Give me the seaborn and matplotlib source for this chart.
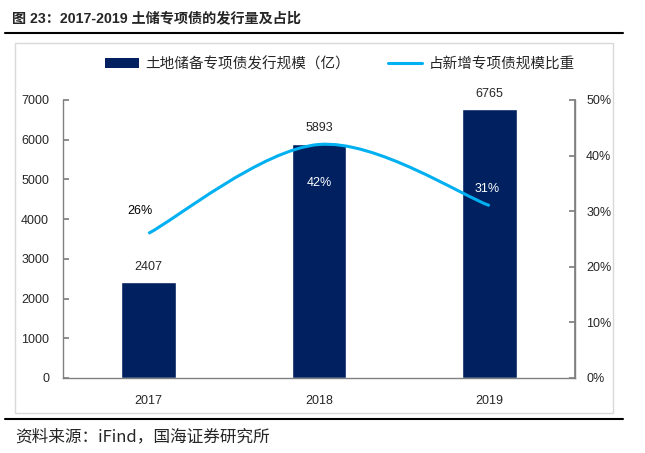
import matplotlib
matplotlib.use("Agg")
import matplotlib.pyplot as plt
import seaborn as sns
import pandas as pd
from matplotlib.path import Path
from matplotlib.patches import PathPatch, Rectangle, Patch
from matplotlib.lines import Line2D

# data
years = ["2017", "2018", "2019"]
issuance = [2407, 5893, 6765]        # 土地储备专项债发行规模（亿）
share = [26, 42, 31]                 # 占新增专项债规模比重 (%)

BAR_COLOR = "#002060"
LINE_COLOR = "#00B0F0"
SPINE = "#808080"

sns.set_theme(style="white")
plt.rcParams["font.family"] = ["Liberation Sans", "Noto Sans CJK SC", "DejaVu Sans"]
plt.rcParams["axes.unicode_minus"] = False

df = pd.DataFrame({"year": years, "issuance": issuance, "share": share})

fig = plt.figure(figsize=(6.45, 4.53), dpi=100)
ax = fig.add_axes([63 / 645, 1 - 378 / 453, 512 / 645, 278 / 453])

sns.barplot(data=df, x="year", y="issuance", color=BAR_COLOR, width=0.32,
            saturation=1, ax=ax)
ax.set_xlim(-0.5, 2.5)
ax.set_ylim(0, 7000)
ax.set_yticks(range(0, 7001, 1000))
ax.set_xlabel("")
ax.set_ylabel("")
ax.tick_params(axis="y", direction="in", length=4, color=SPINE, labelsize=9, pad=10)
ax.tick_params(axis="x", length=0, labelsize=9, pad=12)
for s in ["left", "bottom", "right"]:
    ax.spines[s].set_color(SPINE)
    ax.spines[s].set_linewidth(1)
ax.spines["top"].set_visible(False)

for i, v in enumerate(issuance):
    ax.annotate(str(v), (i, v), xytext=(0, 7), textcoords="offset points",
                ha="center", va="bottom", fontsize=9)

# share line on right axis, smoothed like the Excel original
ax2 = ax.twinx()
ax2.set_ylim(0, 50)
ax2.set_yticks(range(0, 51, 10))
ax2.set_yticklabels([f"{t}%" for t in range(0, 51, 10)])
ax2.tick_params(axis="y", direction="in", length=4, color=SPINE, labelsize=9, pad=8)
ax2.grid(False)
for s in ["left", "bottom", "top"]:
    ax2.spines[s].set_visible(False)
ax2.spines["right"].set_color(SPINE)

pts = list(zip(range(len(share)), share))
verts = [pts[0]]
codes = [Path.MOVETO]
for k in range(len(pts) - 1):
    p0 = pts[max(k - 1, 0)]
    p1 = pts[k]
    p2 = pts[k + 1]
    p3 = pts[min(k + 2, len(pts) - 1)]
    c1 = (p1[0] + (p2[0] - p0[0]) / 6, p1[1] + (p2[1] - p0[1]) / 6)
    c2 = (p2[0] - (p3[0] - p1[0]) / 6, p2[1] - (p3[1] - p1[1]) / 6)
    verts += [c1, c2, p2]
    codes += [Path.CURVE4] * 3
ax2.add_patch(PathPatch(Path(verts, codes), facecolor="none",
                        edgecolor=LINE_COLOR, lw=2.2, capstyle="butt"))

offsets = [(-6, 16), (0, -28), (-2, 12)]
colors = ["black", "white", "white"]
for i, v in enumerate(share):
    ax2.annotate(f"{v}%", (i, v), xytext=offsets[i], textcoords="offset points",
                 ha="center", va="center", fontsize=9, color=colors[i])

# legend
handles = [Patch(facecolor=BAR_COLOR, edgecolor="none"),
           Line2D([0], [0], color=LINE_COLOR, lw=2.2)]
labels = ["土地储备专项债发行规模（亿）", "占新增专项债规模比重"]
fig.legend(handles, labels, loc="center", bbox_to_anchor=(340 / 645, 1 - 64 / 453),
           ncol=2, frameon=False, fontsize=10.5, handlelength=2.3,
           handleheight=0.7, handletextpad=0.45, columnspacing=2.6,
           prop={"family": ["Noto Sans CJK SC"], "size": 10.5})

# frame, rules, title and source
fig.add_artist(Rectangle((15 / 645, 1 - 413 / 453), 598 / 645, 370 / 453,
                         transform=fig.transFigure, fill=False,
                         edgecolor="#d9d9d9", lw=1))
fig.add_artist(Line2D([5 / 645, 623 / 645], [1 - 33 / 453] * 2,
                      transform=fig.transFigure, color="black", lw=1.5))
fig.add_artist(Line2D([5 / 645, 623 / 645], [1 - 419 / 453] * 2,
                      transform=fig.transFigure, color="black", lw=1.5))
fig.text(12 / 645, 1 - 18 / 453, "图 23：2017-2019 土储专项债的发行量及占比",
         fontsize=10.2, fontweight="bold", ha="left", va="center")
fig.text(15 / 645, 1 - 437 / 453, "资料来源：iFind，国海证券研究所",
         fontsize=12, ha="left", va="center",
         family=["Noto Sans CJK SC", "DejaVu Sans"])

fig.savefig("out.png", dpi=100)
